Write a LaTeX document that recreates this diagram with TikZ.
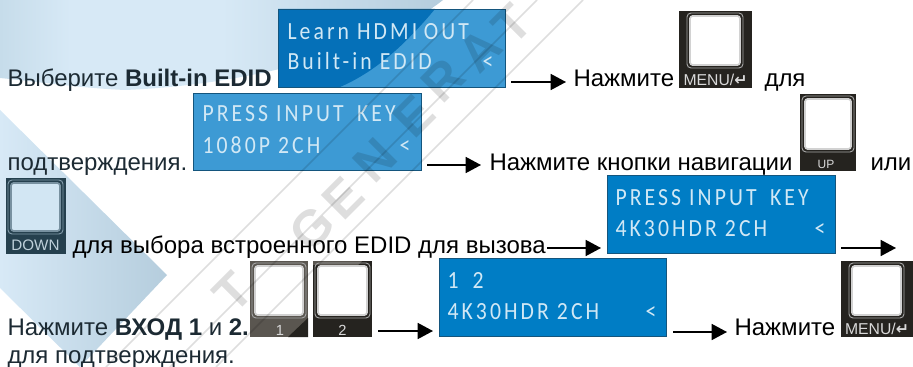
\documentclass[tikz,border=0pt]{standalone}
\usepackage{fontspec}
\setmainfont{Liberation Sans}
\newfontfamily\lcdfont[LetterSpace=12.5,FakeStretch=0.88]{Carlito}
\newfontfamily\symfont{DejaVu Sans}
\usetikzlibrary{arrows.meta}
\definecolor{keyframe}{HTML}{25231F}
\definecolor{keygrey}{HTML}{5A5650}
\definecolor{lcdlight}{HTML}{3D9AD4}
\definecolor{lcddark}{HTML}{007DC5}
\definecolor{lcdshade}{HTML}{0570B8}
\definecolor{washedge}{HTML}{C6DCEA}
\definecolor{washmid}{HTML}{D7E9F6}
\definecolor{washdeep}{HTML}{B5CDDD}
\definecolor{navytext}{HTML}{1C2A33}
\pgfdeclarehorizontalshading{washtop}{100bp}{color(0bp)=(washedge); color(25bp)=(washedge); color(33bp)=(washmid); color(50bp)=(washmid); color(75bp)=(washdeep); color(100bp)=(washdeep)}
\tikzset{every picture/.style={line width=0.75pt}}
\tikzset{
  body/.style={anchor=base west,inner sep=0pt,font=\fontsize{18}{18}\selectfont},
  lcdline/.style={anchor=base west,inner sep=0pt,text=white!82!lcddark,font=\lcdfont\fontsize{18.5}{18.5}\selectfont},
  lcdbox/.style={draw={rgb, 255:red, 20; green, 85; blue, 125},line width=0.6pt},
  pointer/.style={line width=1.2pt,-{Triangle[length=11.5pt,width=12pt]}},
  keybox/.style={fill=keyframe},
  keyrim/.style={draw=gray!70,rounded corners=3pt,line width=0.7pt},
  keyface/.style={draw=gray!35,fill=white,rounded corners=2pt,line width=1.3pt},
  keylabel/.style={anchor=base,inner sep=0pt,text=white!85!black},
  menulabel/.style={keylabel,font=\fontsize{11.8}{11.8}\selectfont},
  wmline/.style={black,opacity=0.13,line width=1.2pt},
  wmletter/.style={anchor=center,inner sep=0pt,rotate=45,text=black,opacity=0.13,font=\bfseries\fontsize{38}{38}\selectfont},
}

\begin{document}
\begin{tikzpicture}[x=0.75pt,y=0.75pt,yscale=-1,xscale=1]
\useasboundingbox (0,0) rectangle (913,367);

%Shape: Background top
\path [shading=washtop] (0,0) -- (443,0) .. controls (380,50) and (250,85) .. (125,90) .. controls (80,88) and (40,82) .. (0,78) -- cycle ;
%Shape: Background band
\path [left color=washmid,right color=washdeep] (0,110) -- (167,275) -- (80,367) -- (0,288) -- cycle ;

%Shape: LCD boxes
\fill [lcdlight] (278,9) rectangle (505,87) ;
\fill [lcdshade] (278,9) -- (435,9) .. controls (405,45) and (375,72) .. (340,87) -- (278,87) -- cycle ;
\draw [lcdbox] (278,9) rectangle (505,87) ;
\draw [lcdbox,fill=lcdlight] (193,93) rectangle (421,170) ;
\draw [lcdbox,fill=lcddark] (607,175) rectangle (835,253) ;
\draw [lcdbox,fill=lcddark] (439,258) rectangle (666,336) ;

% Text Node
\node [lcdline] (learnLine) at (287,40) {Learn HDMI\hspace{-1pt} OUT};
\node [lcdline] (builtLine) at (287,70) {Built-in EDID};
\node [lcdline] (builtMark) at (482,70) {<};
\node [lcdline] (pressLineA) at (202,122) {PRESS INPUT\hspace{4pt} KEY};
\node [lcdline] (fullhdLine) at (202,153) {1080P 2CH};
\node [lcdline] (fullhdMark) at (399,153) {<};
\node [lcdline] (pressLineB) at (615,205) {PRESS INPUT\hspace{4pt} KEY};
\node [lcdline] (hdrLineA) at (615,236) {4K30HDR 2CH};
\node [lcdline] (hdrMarkA) at (814,236) {<};
\node [lcdline] (inputOne) at (447,288) {1};
\node [lcdline] (inputTwo) at (472,288) {2};
\node [lcdline] (hdrLineB) at (447,319) {4K30HDR 2CH};
\node [lcdline] (hdrMarkB) at (645,319) {<};

%Shape: MENU key
\fill [keybox] (679,11) rectangle (752,88) ;
\draw [keyrim] (687,13) rectangle (743,68) ;
\draw [keyface] (690,16) rectangle (740,65) ;
\node [menulabel] (menuLabelA) at (715.5,85.5) {MENU/{\symfont\bfseries ↵}};
%Shape: UP key
\fill [keybox] (800,94) rectangle (856,171) ;
\draw [keyrim] (802,96) rectangle (854,152) ;
\draw [keyface] (805,99) rectangle (851,149) ;
\node [keylabel,font=\fontsize{9}{9}\selectfont] (upLabel) at (826,168.5) {UP};
%Shape: DOWN key
\fill [color={rgb, 255:red, 37; green, 64; blue, 78}] (6,178) rectangle (66,254) ;
\draw [draw={rgb, 255:red, 130; green, 155; blue, 170},rounded corners=3pt,line width=0.7pt] (8,180) rectangle (63,234) ;
\draw [draw={rgb, 255:red, 120; green, 145; blue, 160},fill={rgb, 255:red, 210; green, 230; blue, 243},rounded corners=2pt,line width=1.3pt] (11,183) rectangle (60,231) ;
\node [keylabel,text={rgb, 255:red, 190; green, 208; blue, 218},font=\fontsize{11.4}{11.4}\selectfont] (downLabel) at (35.5,250) {DOWN};
%Shape: Input key 1
\fill [keygrey] (250,261) rectangle (308,337) ;
\fill [keybox] (308,318) -- (308,337) -- (288,337) -- cycle ;
\draw [keyrim] (252,263) rectangle (306,318) ;
\draw [keyface] (255,266) rectangle (303,315) ;
\node [keylabel,font=\fontsize{11}{11}\selectfont] (keyOneLabel) at (280,335) {1};
%Shape: Input key 2
\fill [keybox] (313,261) rectangle (372,337) ;
\fill [keygrey] (313,261) -- (362,261) -- (358,265) -- (313,265) -- cycle ;
\draw [keyrim] (315,263) rectangle (370,318) ;
\draw [keyface] (318,266) rectangle (367,315) ;
\node [keylabel,font=\fontsize{11}{11}\selectfont] (keyTwoLabel) at (342.5,335) {2};
%Shape: MENU key again
\fill [keybox] (841,261) rectangle (913,337) ;
\draw [keyrim] (849,263) rectangle (904,318) ;
\draw [keyface] (852,266) rectangle (901,315) ;
\node [menulabel] (menuLabelB) at (877,334.5) {MENU/{\symfont\bfseries ↵}};

% Text Node
\node [body,text=navytext] (chooseText) at (7,87) {Выберите \textbf{Built-in EDID}};
\node [body] (pressMenuA) at (573,87) {Нажмите};
\node [body] (forText) at (764,87) {для};
\node [body,text=navytext] (confirmA) at (7,171) {подтверждения.};
\node [body] (pressNav) at (489,171) {Нажмите кнопки навигации};
\node [body] (orText) at (870,171) {или};
\node [body] (selectText) at (72,253) {для выбора встроенного EDID для вызова};
\node [body,text=navytext] (pressInput) at (7,335) {Нажмите \textbf{ВХОД 1} и \textbf{2.}};
\node [body] (pressMenuB) at (734,335) {Нажмите};
\node [body,text=navytext] (confirmB) at (7,363) {для подтверждения.};

%Straight Lines
\coordinate (arrowAs) at (511,82);
\coordinate (arrowAe) at (566,82);
\coordinate (arrowBs) at (427,165);
\coordinate (arrowBe) at (481,165);
\coordinate (arrowCs) at (547,248);
\coordinate (arrowCe) at (601,248);
\coordinate (arrowDs) at (841,248);
\coordinate (arrowDe) at (896,248);
\coordinate (arrowEs) at (378,331);
\coordinate (arrowEe) at (433,331);
\coordinate (arrowFs) at (673,332);
\coordinate (arrowFe) at (727,332);
\draw [pointer] (arrowAs) -- (arrowAe) ;
\draw [pointer] (arrowBs) -- (arrowBe) ;
\draw [pointer] (arrowCs) -- (arrowCe) ;
\draw [pointer] (arrowDs) -- (arrowDe) ;
\draw [pointer] (arrowEs) -- (arrowEe) ;
\draw [pointer] (arrowFs) -- (arrowFe) ;

%Straight Lines: watermark
\draw [wmline] (473,0) -- (106,367) ;
\draw [wmline] (537,0) -- (170,367) ;
\draw [wmline] (583,0) -- (216,367) ;
% Text Node: watermark
\node [wmletter] (wmT) at (233,292) {T};
\node [wmletter] (wmG) at (312,228) {G};
\node [wmletter] (wmEa) at (343,198) {E};
\node [wmletter] (wmN) at (375,160) {N};
\node [wmletter] (wmEb) at (414,116) {E};
\node [wmletter] (wmR) at (443,80) {R};
\node [wmletter] (wmA) at (480,50) {A};
\node [wmletter] (wmTb) at (512,24) {T};

\end{tikzpicture}
\end{document}
